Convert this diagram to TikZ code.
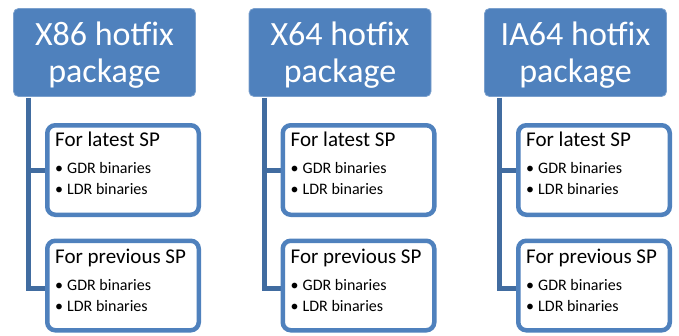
\documentclass[tikz,border=0pt]{standalone}
\usepackage{fontspec}
\setmainfont{Carlito}
\usetikzlibrary{backgrounds,calc}
\definecolor{topfill}{RGB}{79,129,189}
\definecolor{childline}{RGB}{79,129,189}
\definecolor{connline}{RGB}{65,108,160}
\tikzset{
 topbox/.style={rectangle, rounded corners=5pt, fill=topfill, draw=topfill!75!white, line width=0.8pt, minimum width=182pt, minimum height=88pt, inner sep=0pt},
 toptext/.style={anchor=base, text=white, font=\fontsize{34}{37}\selectfont, inner sep=0pt},
 childbox/.style={rectangle, rounded corners=8pt, fill=white, draw=childline, line width=4.5pt, minimum width=151.5pt, minimum height=89.5pt, inner sep=0pt},
 titletext/.style={anchor=base west, font=\fontsize{21}{24}\selectfont, inner sep=0pt},
 bullettext/.style={anchor=base west, font=\fontsize{16}{19}\selectfont, inner sep=0pt},
 conn/.style={draw=connline, line width=5pt},
}
\newcommand{\bul}{\makebox[12pt][l]{•}}
\begin{document}
\begin{tikzpicture}[x=1pt,y=-1pt]
\useasboundingbox (0,0) rectangle (679,335);
\foreach \i/\dx/\nm in {1/0/X86, 2/235.5/X64, 3/471/IA64}{
  \node[topbox] (t\i) at (104.5+\dx,52.5) {};
  \node[toptext] (tl\i) at (104.5+\dx,45) {\nm\ hotfix};
  \node[toptext] (tm\i) at (104.5+\dx,82) {package};
  \node[childbox] (ca\i) at (123+\dx,170) {};
  \node[childbox] (cb\i) at (123+\dx,285.5) {};
  \node[titletext] (ha\i) at (55+\dx,146.5) {For latest SP};
  \node[bullettext] (ga\i) at (55+\dx,173.5) {\bul GDR binaries};
  \node[bullettext] (la\i) at (55+\dx,194.5) {\bul LDR binaries};
  \node[titletext] (hb\i) at (55+\dx,263) {For previous SP};
  \node[bullettext] (gb\i) at (55+\dx,290) {\bul GDR binaries};
  \node[bullettext] (lb\i) at (55+\dx,311) {\bul LDR binaries};
  \coordinate (s\i) at ($(t\i.south west)+(15.5,1)$);
  \begin{scope}[on background layer]
    \draw[conn] (s\i) |- (ca\i.west);
    \draw[conn] (s\i) |- ([yshift=-2.5pt]cb\i.west);
  \end{scope}
}
\end{tikzpicture}
\end{document}
